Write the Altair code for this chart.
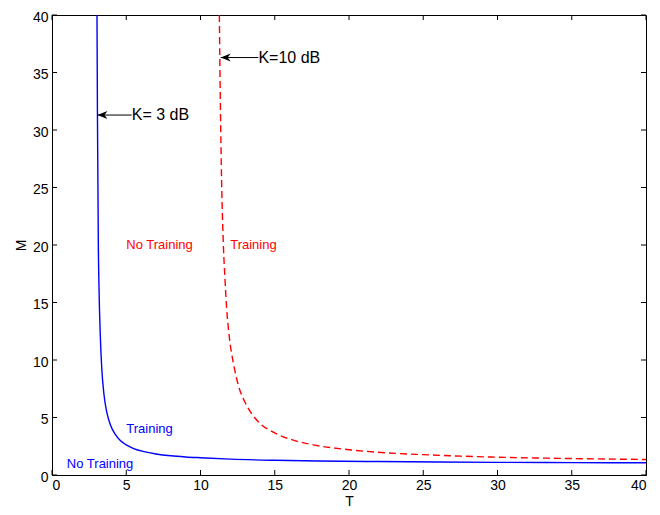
import altair as alt
import pandas as pd

# K = 3 dB curve (solid blue)
blue_T = [3.03, 3.06, 3.12, 3.17, 3.25, 3.35, 3.5, 3.7, 3.95, 4.25, 4.6, 5.0, 5.5, 6.2, 7.0, 8.0, 9.0, 10, 12, 15, 18, 22, 26, 30, 35, 40]
blue_M = [40, 31.4, 20, 16, 12.2, 9.3, 7.0, 5.4, 4.3, 3.55, 3.0, 2.62, 2.3, 2.03, 1.83, 1.67, 1.57, 1.5, 1.38, 1.28, 1.22, 1.17, 1.13, 1.1, 1.08, 1.06]

# K = 10 dB curve (dashed red)
red_T = [11.27, 11.3, 11.4, 11.54, 11.65, 11.76, 11.94, 12.21, 12.55, 13.11, 13.89, 14.9, 16.25, 17.6, 20, 22.5, 25, 27.5, 30, 35, 40]
red_M = [40, 36.3, 27, 20.0, 17.0, 14.5, 12.0, 9.75, 7.8, 6.05, 4.63, 3.72, 3.03, 2.62, 2.2, 1.93, 1.77, 1.64, 1.55, 1.43, 1.35]

# region labels
label_T = [5, 12, 5, 1]
label_M = [20, 20, 4, 1]
label_text = ["No Training", "Training", "Training", "No Training"]
label_color = ["#ff0000", "#ff0000", "#0000ff", "#0000ff"]

# arrow annotations
arrow_tip_T = [3.06, 11.36]
arrow_tail_T = [5.37, 13.9]
arrow_M = [31.3, 36.3]
arrow_text = ["K= 3 dB", "K=10 dB"]

ticks = [0, 5, 10, 15, 20, 25, 30, 35, 40]

W, H = 594, 460
FONT = "Liberation Sans"

blue_df = pd.DataFrame({"T": blue_T, "M": blue_M})
red_df = pd.DataFrame({"T": red_T, "M": red_M})
lab_df = pd.DataFrame({"T": label_T, "M": label_M, "text": label_text, "color": label_color})
arr_df = pd.DataFrame({"tip": arrow_tip_T, "tail": arrow_tail_T, "M": arrow_M, "text": arrow_text})
tick_df = pd.DataFrame({"v": ticks})

xs = alt.Scale(domain=[0, 40], nice=False, zero=False)
ys = alt.Scale(domain=[0, 40], nice=False, zero=False)

x_axis = alt.Axis(values=ticks, grid=False, ticks=False, tickSize=0, labelPadding=3,
                  labelFontSize=14, labelFont=FONT, labelColor="#000000",
                  domainColor="#000000", title="T", titleFont=FONT, titleFontSize=14,
                  titleFontWeight="normal", titleColor="#000000", titleX=W / 2, titleY=30,
                  titleBaseline="alphabetic", titleAlign="center")
y_axis = alt.Axis(values=ticks, grid=False, ticks=False, tickSize=0, labelPadding=4,
                  labelOffset=2,
                  labelFontSize=14, labelFont=FONT, labelColor="#000000",
                  domainColor="#000000", title="M", titleFont=FONT, titleFontSize=14,
                  titleFontWeight="normal", titleColor="#000000", titleX=-27, titleY=H / 2,
                  titleAngle=-90, titleBaseline="alphabetic", titleAlign="center")

blue = alt.Chart(blue_df).mark_line(color="#0000ff", strokeWidth=1.4, clip=True,
                                    interpolate="monotone").encode(
    x=alt.X("T:Q", scale=xs, axis=x_axis),
    y=alt.Y("M:Q", scale=ys, axis=y_axis),
    order="T:Q",
)
red = alt.Chart(red_df).mark_line(color="#ff0000", strokeWidth=1.4, strokeDash=[7, 4],
                                  clip=True, interpolate="monotone").encode(
    x=alt.X("T:Q", scale=xs),
    y=alt.Y("M:Q", scale=ys),
    order="T:Q",
)

labels = alt.Chart(lab_df).mark_text(align="left", baseline="middle", font=FONT, fontSize=13).encode(
    x=alt.X("T:Q", scale=xs),
    y=alt.Y("M:Q", scale=ys),
    text="text:N",
    color=alt.Color("color:N", scale=None),
)

arrow_line = alt.Chart(arr_df).mark_rule(color="#000000", strokeWidth=1).encode(
    x=alt.X("tip:Q", scale=xs),
    x2="tail:Q",
    y=alt.Y("M:Q", scale=ys),
)
arrow_head = alt.Chart(arr_df).mark_point(
    shape="M0,0 L2,-0.8 L1.4,0 L2,0.8 Z", filled=True, size=100, opacity=1,
    color="#000000", strokeWidth=0).encode(
    x=alt.X("tip:Q", scale=xs),
    y=alt.Y("M:Q", scale=ys),
)
arrow_text_layer = alt.Chart(arr_df).mark_text(align="left", baseline="middle", font=FONT,
                                               fontSize=16, color="#000000").encode(
    x=alt.X("tail:Q", scale=xs),
    y=alt.Y("M:Q", scale=ys),
    text="text:N",
)

tick_style = dict(color="#000000", strokeWidth=1)
t_bottom = alt.Chart(tick_df).mark_rule(**tick_style).encode(
    x=alt.X("v:Q", scale=xs), y=alt.value(H), y2=alt.value(H - 5))
t_top = alt.Chart(tick_df).mark_rule(**tick_style).encode(
    x=alt.X("v:Q", scale=xs), y=alt.value(0), y2=alt.value(5))
t_left = alt.Chart(tick_df).mark_rule(**tick_style).encode(
    y=alt.Y("v:Q", scale=ys), x=alt.value(0), x2=alt.value(5))
t_right = alt.Chart(tick_df).mark_rule(**tick_style).encode(
    y=alt.Y("v:Q", scale=ys), x=alt.value(W), x2=alt.value(W - 5))

chart = alt.layer(
    blue, red, labels, arrow_line, arrow_head, arrow_text_layer,
    t_bottom, t_top, t_left, t_right,
).properties(
    width=W, height=H,
    autosize=alt.AutoSizeParams(type="none"),
    padding={"left": 44, "top": 7, "right": 6, "bottom": 32},
    background="#ffffff",
).configure_view(stroke="#000000", strokeWidth=1)

chart.save("out.html", embed_options={"renderer": "svg", "actions": False})
